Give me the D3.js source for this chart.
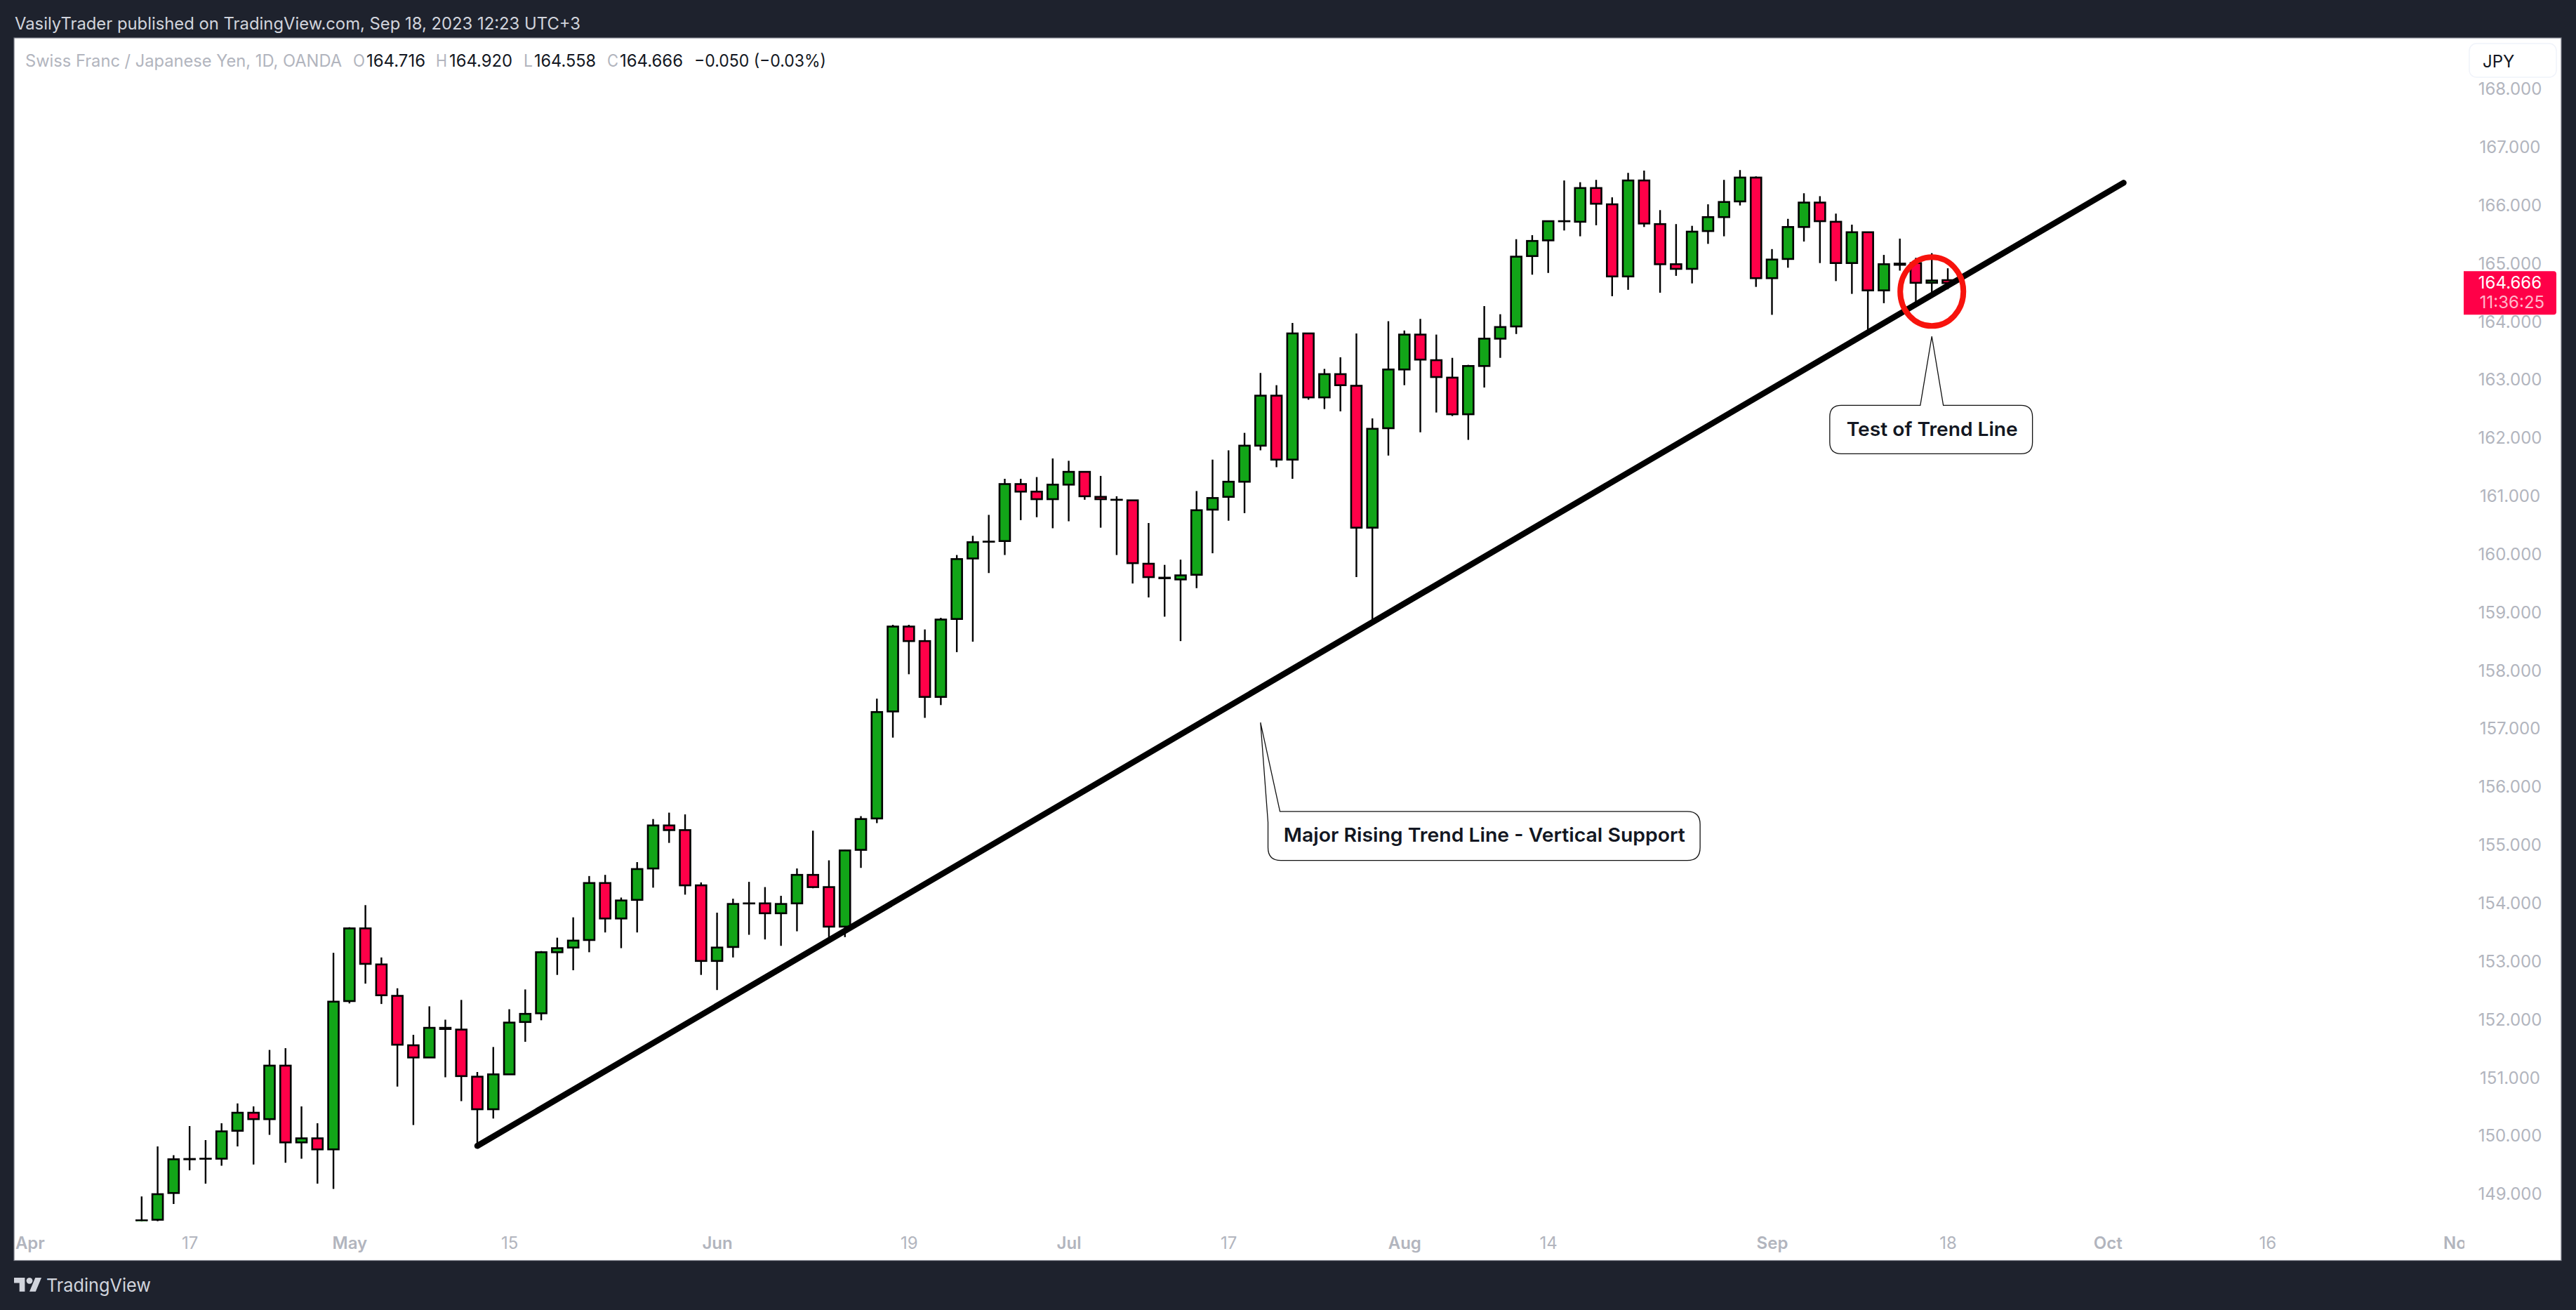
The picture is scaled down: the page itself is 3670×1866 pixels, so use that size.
<!DOCTYPE html>
<html>
<head>
<meta charset="utf-8">
<title>CHFJPY</title>
<script src="https://cdnjs.cloudflare.com/ajax/libs/d3/7.8.5/d3.min.js"></script>
<style>
    html, body { margin: 0; padding: 0; background: #1e222d; }
    svg { display: block; font-family: Inter, "Noto Sans", sans-serif; }
</style>
</head>
<body>
<div id="chart"></div>
<script>
// daily candles, Apr 12 to Sep 18 2023
const opens = [148.30,148.56,149.02,149.60,149.61,149.61,150.09,150.40,150.29,151.21,149.89,149.96,149.77,152.32,153.57,152.95,152.41,151.56,151.35,151.86,151.83,151.02,150.46,151.06,151.96,152.11,153.16,153.24,153.37,154.35,153.74,154.06,154.60,155.34,155.26,154.31,153.01,153.25,154.00,154.00,153.83,154.00,154.49,154.28,153.60,154.92,155.46,157.30,158.76,158.51,157.55,158.89,159.93,160.22,160.23,161.21,161.08,160.95,161.20,161.42,160.99,160.94,160.93,159.84,159.60,159.57,159.65,160.77,160.99,161.25,161.87,162.73,161.63,163.80,162.70,163.10,162.90,160.46,162.17,163.18,163.78,163.34,163.04,162.41,163.24,163.71,163.92,165.13,165.40,165.73,165.72,166.30,166.02,164.78,166.43,165.68,164.99,164.91,165.56,165.80,166.07,166.48,164.75,165.08,165.63,166.05,165.72,165.01,165.54,164.54,165.00,165.01,164.67,164.716];
const highs = [148.96,149.82,149.67,150.17,149.93,150.22,150.56,150.51,151.48,151.51,150.51,150.22,153.15,153.59,153.97,153.07,152.54,151.74,152.23,152.00,152.34,151.10,151.53,152.18,152.52,153.18,153.41,153.76,154.47,154.49,154.10,154.71,155.45,155.56,155.53,154.36,153.84,154.08,154.37,154.28,154.13,154.60,155.25,154.74,154.92,155.50,157.52,158.79,158.79,158.71,158.91,159.99,160.32,160.68,161.30,161.30,161.33,161.65,161.61,161.43,161.35,161.00,160.93,160.54,159.82,159.91,161.09,161.63,161.79,162.09,163.12,162.91,163.98,163.80,163.19,163.39,163.80,162.34,164.01,163.85,164.05,163.78,163.38,163.26,164.27,164.13,165.42,165.49,165.73,166.43,166.40,166.44,166.14,166.56,166.60,165.92,165.68,165.65,166.02,166.44,166.61,166.50,165.25,165.77,166.21,166.16,165.86,165.67,165.54,165.15,165.43,165.10,165.18,164.92];
const lows = [148.20,148.53,148.83,149.41,149.18,149.49,149.82,149.51,150.02,149.54,149.61,149.18,149.09,152.28,152.62,152.27,150.85,150.19,151.35,151.01,150.60,149.83,150.30,151.06,151.62,151.99,152.77,152.85,153.16,153.50,153.23,153.50,154.27,155.04,154.15,152.77,152.51,153.07,153.46,153.38,153.27,153.52,154.26,153.40,153.42,154.61,155.38,156.85,157.94,157.19,157.41,158.32,158.50,159.68,159.99,160.59,160.64,160.45,160.57,160.94,160.46,159.99,159.50,159.26,158.93,158.51,159.42,160.02,160.58,160.71,161.79,161.50,161.30,162.66,162.50,162.46,159.61,158.87,161.70,162.91,162.10,162.44,162.38,161.97,162.87,163.38,163.79,164.81,164.84,165.57,165.47,165.66,164.44,164.55,165.63,164.50,164.79,164.66,165.34,165.47,166.00,164.60,164.12,164.93,165.38,165.01,164.70,164.48,163.86,164.32,164.88,164.32,164.46,164.558];
const closes = [148.55,149.00,149.60,149.605,149.61,150.08,150.40,150.29,151.21,149.89,149.96,149.77,152.31,153.57,152.96,152.42,151.57,151.35,151.86,151.84,151.03,150.46,151.06,151.95,152.10,153.16,153.23,153.36,154.35,153.74,154.05,154.59,155.34,155.26,154.31,153.01,153.24,153.99,154.00,153.83,153.99,154.49,154.28,153.60,154.91,155.45,157.29,158.76,158.51,157.55,158.88,159.92,160.21,160.22,161.21,161.08,160.95,161.20,161.42,161.00,160.95,160.94,159.85,159.61,159.59,159.64,160.76,160.97,161.25,161.87,162.73,161.63,163.80,162.70,163.10,162.91,160.46,162.16,163.18,163.78,163.35,163.05,162.41,163.24,163.71,163.91,165.12,165.39,165.73,165.73,166.30,166.03,164.78,166.43,165.69,164.99,164.91,165.55,165.80,166.06,166.48,164.75,165.07,165.63,166.05,165.73,165.01,165.54,164.54,164.99,164.98,164.67,164.71,164.666];

const priceTicks = [149,150,151,152,153,154,155,156,157,158,159,160,161,162,163,164,165,166,167,168];
// position on the candle index, weekends are left out
const timeTickIdx = [-7,3,13,23,36,48,58,68,79,88,102,113,123,133,145];
const timeTickLabels = ["Apr","17","May","15","Jun","19","Jul","17","Aug","14","Sep","18","Oct","16","Nov"];
const monthLabels = ["Apr","May","Jun","Jul","Aug","Sep","Oct","Nov"];

// drawings on the chart, x is candle index, y is price
const trendIdx = [21,124];
const trendPrice = [149.83,166.39];
const circleIdx = 112, circlePrice = 164.52;
const majorTip = [70, 157.11];
const testTip = [112, 163.75];

const lastPrice = 164.666;
const width = 3670, height = 1866;
const panel = { left: 20, right: 3649, top: 54, bottom: 1795.5 };
const bg = "#1e222d", grey = "#b2b5be", up = "#12a518", down = "#ff0048";

const candles = opens.map((o, i) => ({ i: i, o: o, h: highs[i], l: lows[i], c: closes[i] }));

const svg = d3.select("#chart").append("svg")
    .attr("width", width)
    .attr("height", height);

const x = d3.scaleLinear().domain([0, 113]).range([201.8, 2775]);
const y = d3.scaleLinear().domain([168, 149]).range([127, 1701]);

// panel
svg.append("rect")
    .attr("x", panel.left)
    .attr("y", panel.top)
    .attr("width", panel.right - panel.left)
    .attr("height", panel.bottom - panel.top)
    .attr("fill", "#fff")
    .attr("stroke", "#787b86")
    .attr("stroke-width", 1.2);

const defs = svg.append("defs");
defs.append("clipPath").attr("id", "candleClip").append("rect")
    .attr("x", panel.left).attr("y", panel.top)
    .attr("width", 3490).attr("height", 1739.6 - panel.top);
defs.append("clipPath").attr("id", "timeClip").append("rect")
    .attr("x", panel.left).attr("y", 1745)
    .attr("width", 3511 - panel.left).attr("height", 50);

// header
svg.append("text")
    .attr("x", 21).attr("y", 41.5)
    .attr("fill", "#d1d4dc")
    .attr("font-size", 24)
    .attr("textLength", 806)
    .attr("lengthAdjust", "spacingAndGlyphs")
    .text("VasilyTrader published on TradingView.com, Sep 18, 2023 12:23 UTC+3");

// legend line
const legend = [
    { t: "Swiss Franc / Japanese Yen, 1D, OANDA", x: 36, w: 451, c: grey },
    { t: "O", x: 503, w: 17, c: grey },
    { t: "164.716", x: 522, w: 84, c: "#131722" },
    { t: "H", x: 621, w: 16, c: grey },
    { t: "164.920", x: 640, w: 90, c: "#131722" },
    { t: "L", x: 746, w: 13, c: grey },
    { t: "164.558", x: 761, w: 88, c: "#131722" },
    { t: "C", x: 865, w: 16, c: grey },
    { t: "164.666", x: 883, w: 90, c: "#131722" },
    { t: "\u22120.050 (\u22120.03%)", x: 989, w: 188, c: "#131722" }
];
svg.append("g").selectAll("text")
    .data(legend)
    .enter()
    .append("text")
    .attr("x", d => d.x)
    .attr("y", 94.5)
    .attr("fill", d => d.c)
    .attr("font-size", 24)
    .attr("textLength", d => d.w)
    .attr("lengthAdjust", "spacingAndGlyphs")
    .text(d => d.t);

// candles
const plot = svg.append("g").attr("clip-path", "url(#candleClip)");
plot.selectAll(".wick")
    .data(candles)
    .enter()
    .append("line")
    .attr("class", "wick")
    .attr("x1", d => x(d.i))
    .attr("x2", d => x(d.i))
    .attr("y1", d => y(d.h))
    .attr("y2", d => y(d.l))
    .attr("stroke", "#000")
    .attr("stroke-width", 2.4);
plot.selectAll(".body")
    .data(candles)
    .enter()
    .append("rect")
    .attr("class", "body")
    .attr("x", d => x(d.i) - 7.5)
    .attr("width", 15)
    .attr("y", d => y(Math.max(d.o, d.c)))
    .attr("height", d => Math.max(0.1, Math.abs(y(d.o) - y(d.c))))
    .attr("fill", d => d.c >= d.o ? up : down)
    .attr("stroke", "#000")
    .attr("stroke-width", 2.6);

// trend line
svg.append("line")
    .attr("x1", x(trendIdx[0]))
    .attr("y1", y(trendPrice[0]))
    .attr("x2", x(trendIdx[1]))
    .attr("y2", y(trendPrice[1]))
    .attr("stroke", "#000")
    .attr("stroke-width", 8.5)
    .attr("stroke-linecap", "round");

// circle round the last candles
svg.append("ellipse")
    .attr("cx", x(circleIdx))
    .attr("cy", y(circlePrice))
    .attr("rx", 45)
    .attr("ry", 49)
    .attr("fill", "none")
    .attr("stroke", "#f7130d")
    .attr("stroke-width", 8);

// callouts
const callout = svg.append("g")
    .attr("fill", "#fff")
    .attr("stroke", "#111")
    .attr("stroke-width", 1.3);

const mx = x(majorTip[0]), my = y(majorTip[1]);
callout.append("path").attr("d", [
    "M", mx, my,
    "L", mx + 27.7, my + 126.7,
    "H", mx + 608,
    "Q", mx + 626.3, my + 126.7, mx + 626.3, my + 145,
    "V", my + 178,
    "Q", mx + 626.3, my + 196.4, mx + 608, my + 196.4,
    "H", mx + 29,
    "Q", mx + 10.7, my + 196.4, mx + 10.7, my + 178,
    "V", my + 142,
    "Z"
].join(" "));

const tx = x(testTip[0]), ty = y(testTip[1]);
callout.append("path").attr("d", [
    "M", tx, ty,
    "L", tx + 16.4, ty + 98.3,
    "H", tx + 127,
    "Q", tx + 143.4, ty + 98.3, tx + 143.4, ty + 114.7,
    "V", ty + 151,
    "Q", tx + 143.4, ty + 167.3, tx + 127, ty + 167.3,
    "H", tx - 129,
    "Q", tx - 145.4, ty + 167.3, tx - 145.4, ty + 151,
    "V", ty + 114.7,
    "Q", tx - 145.4, ty + 98.3, tx - 129, ty + 98.3,
    "H", tx - 16.4,
    "Z"
].join(" "));

svg.append("text")
    .attr("x", mx + 33)
    .attr("y", my + 170)
    .attr("font-size", 27.5)
    .attr("font-weight", 600)
    .attr("fill", "#131722")
    .attr("textLength", 572)
    .attr("lengthAdjust", "spacingAndGlyphs")
    .text("Major Rising Trend Line - Vertical Support");
svg.append("text")
    .attr("x", tx - 121.5)
    .attr("y", ty + 141.7)
    .attr("font-size", 27.5)
    .attr("font-weight", 600)
    .attr("fill", "#131722")
    .attr("textLength", 244)
    .attr("lengthAdjust", "spacingAndGlyphs")
    .text("Test of Trend Line");

// price axis
const yAxis = svg.append("g")
    .attr("transform", "translate(3576,0)")
    .call(d3.axisRight(y).tickValues(priceTicks).tickSize(0).tickPadding(0).tickFormat(d3.format(".3f")));
yAxis.select(".domain").remove();
yAxis.selectAll("text")
    .attr("text-anchor", "middle")
    .attr("font-family", "Inter")
    .attr("font-size", 24)
    .attr("fill", grey);

// time axis
const xAxis = svg.append("g")
    .attr("clip-path", "url(#timeClip)")
    .append("g")
    .attr("transform", "translate(0,1770)")
    .call(d3.axisBottom(x).tickValues(timeTickIdx).tickSize(0).tickPadding(0)
        .tickFormat((d, i) => timeTickLabels[i]));
xAxis.select(".domain").remove();
xAxis.selectAll("text")
    .attr("dy", "0.36em")
    .attr("y", 0)
    .attr("font-family", "Inter")
    .attr("font-size", 24)
    .attr("font-weight", (d, i) => monthLabels.includes(timeTickLabels[i]) ? 600 : 400)
    .attr("fill", grey);

// currency button
svg.append("rect")
    .attr("x", 3518).attr("y", 62)
    .attr("width", 124).attr("height", 48)
    .attr("rx", 10)
    .attr("fill", "#fff")
    .attr("stroke", "#f0f3fa")
    .attr("stroke-width", 1.5);
svg.append("text")
    .attr("x", 3537).attr("y", 95.5)
    .attr("font-size", 24)
    .attr("fill", "#131722")
    .text("JPY");

// last price tag
const tagY = y(lastPrice);
svg.append("path")
    .attr("d", ["M", 3510, tagY - 17, "H", 3638, "Q", 3642, tagY - 17, 3642, tagY - 13,
        "V", tagY + 41, "Q", 3642, tagY + 45, 3638, tagY + 45, "H", 3510, "Z"].join(" "))
    .attr("fill", down);
svg.append("text")
    .attr("x", 3576).attr("y", tagY + 8)
    .attr("text-anchor", "middle")
    .attr("font-size", 24)
    .attr("fill", "#fff")
    .text(d3.format(".3f")(lastPrice));
svg.append("text")
    .attr("x", 3579).attr("y", tagY + 35.5)
    .attr("text-anchor", "middle")
    .attr("font-size", 24)
    .attr("fill", "#fff")
    .attr("fill-opacity", 0.72)
    .text("11:36:25");

// footer logo
const logo = svg.append("g")
    .attr("transform", "translate(20,1815.5) scale(1.1)")
    .attr("fill", "#d1d4dc");
logo.append("path").attr("d", "M14 22H7V11H0V4h14v18zM28 22h-8l7.5-18h8L28 22z");
logo.append("circle").attr("cx", 20).attr("cy", 8).attr("r", 4);
svg.append("text")
    .attr("x", 66).attr("y", 1840)
    .attr("font-size", 26)
    .attr("fill", "#d1d4dc")
    .attr("textLength", 149)
    .attr("lengthAdjust", "spacingAndGlyphs")
    .text("TradingView");
</script>
</body>
</html>
